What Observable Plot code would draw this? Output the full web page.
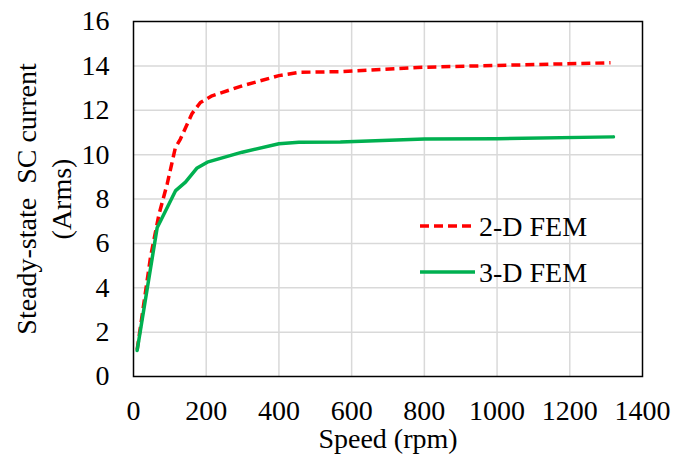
<!DOCTYPE html>
<html>
<head>
<meta charset="utf-8">
<script src="https://cdn.jsdelivr.net/npm/d3@7"></script>
<script src="https://cdn.jsdelivr.net/npm/@observablehq/plot@0.6"></script>
<style>
  html, body { margin: 0; padding: 0; background: #fff; }
  #chart { position: relative; width: 674px; height: 459px; }
  #chart svg, #chart svg text, #chart svg tspan { font-family: "Liberation Serif", "Times New Roman", Times, serif !important; }
</style>
</head>
<body>
<div id="chart"></div>
<script>
// Data
const speed2D = [10, 47, 70, 93, 115, 129, 161, 184, 216, 299, 400, 455, 570, 800, 1000, 1312];
const current2D = [1.2, 5.4, 7.3, 8.7, 10.3, 10.7, 11.85, 12.35, 12.65, 13.1, 13.56, 13.71, 13.74, 13.94, 14.02, 14.14];
const speed3D = [10, 65, 74, 116, 143, 175, 203, 299, 400, 455, 569, 800, 1000, 1320];
const current3D = [1.17, 6.7, 7.0, 8.38, 8.76, 9.4, 9.66, 10.11, 10.49, 10.56, 10.57, 10.7, 10.72, 10.8];
const xTicks = [0, 200, 400, 600, 800, 1000, 1200, 1400];
const yTicks = [0, 2, 4, 6, 8, 10, 12, 14, 16];
const seriesNames = ["2-D FEM", "3-D FEM"];
const seriesColors = ["#ff0000", "#00b050"];
const xLabel = "Speed (rpm)";
const yLabel = "Steady-state\u00a0 SC current\n(Arms)";

const FONT = "Liberation Serif";
const data2D = speed2D.map((s, i) => ({speed: s, current: current2D[i]}));
const data3D = speed3D.map((s, i) => ({speed: s, current: current3D[i]}));
const fmt = d => String(d);

const plot = Plot.plot({
  width: 674,
  height: 459,
  marginLeft: 133,
  marginTop: 21,
  marginRight: 32,
  marginBottom: 83,
  style: {fontSize: "28px", fontFamily: FONT, color: "#000", background: "#fff"},
  x: {domain: [0, 1400], label: null},
  y: {domain: [0, 16], label: null},
  marks: [
    Plot.gridX(xTicks.slice(1, -1), {stroke: "#d9d9d9", strokeOpacity: 1, strokeWidth: 1.5}),
    Plot.gridY(yTicks.slice(1, -1), {stroke: "#d9d9d9", strokeOpacity: 1, strokeWidth: 1.5}),
    Plot.frame({stroke: "#000", strokeWidth: 1.5}),
    Plot.axisX({ticks: xTicks, tickFormat: fmt, tickSize: 0, tickPadding: 24, label: null, fontSize: 28, fontFamily: FONT}),
    Plot.axisY({ticks: yTicks, tickFormat: fmt, tickSize: 0, tickPadding: 24, label: null, fontSize: 28, fontFamily: FONT}),
    Plot.line(data2D, {x: "speed", y: "current", stroke: seriesColors[0], strokeWidth: 3.5, strokeDasharray: "9,5", strokeLinecap: "butt"}),
    Plot.line(data3D, {x: "speed", y: "current", stroke: seriesColors[1], strokeWidth: 3.5}),
    Plot.text([xLabel], {frameAnchor: "bottom", dy: 63, dx: 0, lineAnchor: "middle", textAnchor: "middle", fontSize: 28, fontFamily: FONT}),
    Plot.text([yLabel], {frameAnchor: "left", rotate: -90, dx: -91, dy: 0, lineAnchor: "middle", textAnchor: "middle", lineHeight: 1.25, fontSize: 28, fontFamily: FONT})
  ]
});

document.getElementById("chart").appendChild(plot);

// Legend (inside plot area)
const svg = d3.select(plot);
const leg = svg.append("g").attr("font-size", 28).attr("font-family", FONT).attr("text-anchor", "start");
const legendRows = [226, 272];
seriesNames.forEach((name, i) => {
  const y = legendRows[i];
  leg.append("line").attr("x1", 420).attr("x2", 475).attr("y1", y).attr("y2", y)
    .attr("stroke", seriesColors[i]).attr("stroke-width", 3.5)
    .attr("stroke-dasharray", i === 0 ? "9,5" : null);
  leg.append("text").attr("x", 479).attr("y", y).attr("dy", "0.35em").attr("fill", "#000").text(name);
});
</script>
</body>
</html>
